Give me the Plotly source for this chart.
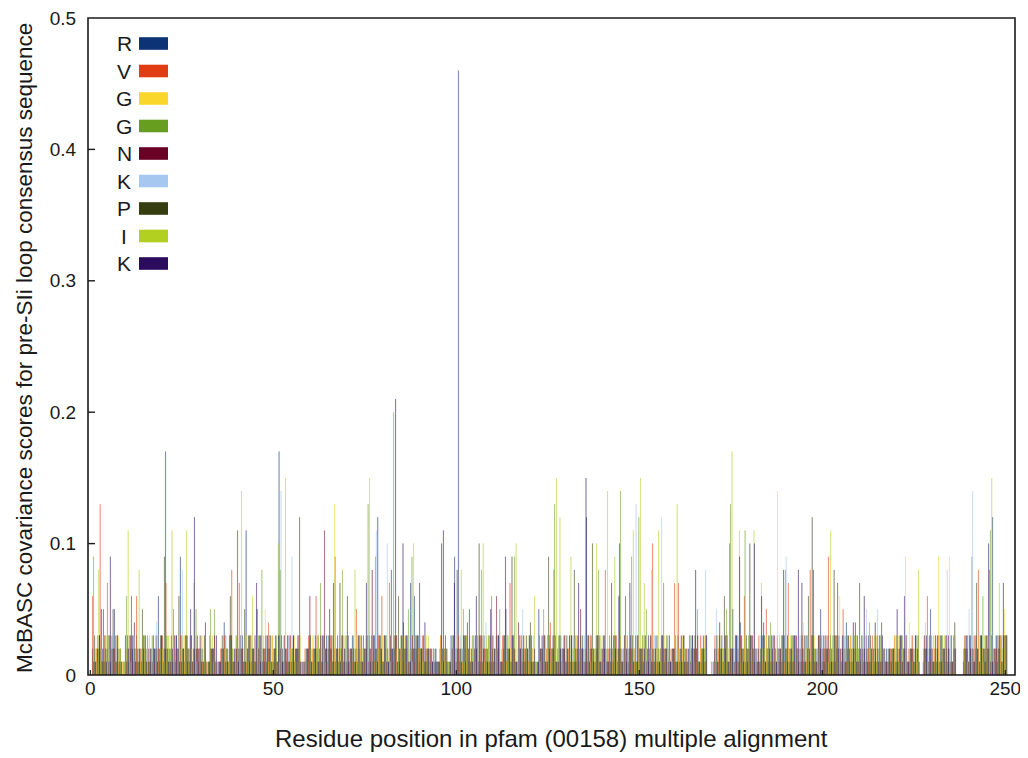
import plotly.graph_objects as go

# residue positions in the pfam (00158) alignment
positions = list(range(1, 251))
x_ticks = [0, 50, 100, 150, 200, 250]
y_ticks = [0, 0.1, 0.2, 0.3, 0.4, 0.5]
y_tick_text = ["0", "0.1", "0.2", "0.3", "0.4", "0.5"]

series_names = ["R", "V", "G", "G", "N", "K", "P", "I", "K"]
series_colors = ["#0b3375", "#e13d12", "#f9d629", "#679e1f", "#6a0225",
                 "#a6c8f0", "#363d10", "#b2d01f", "#2b0b5e"]

# McBASC covariance scores x 100, one list per consensus residue
score_R = [
    2, 1, 3, 5, 2, 1, 5, 2, 0, 3,
    1, 2, 3, 1, 2, 0, 1, 2, 6, 3,
    17, 2, 1, 3, 9, 2, 1, 3, 2, 1,
    2, 0, 1, 2, 0, 1, 4, 2, 3, 1,
    2, 3, 11, 1, 2, 5, 3, 1, 2, 0,
    3, 17, 2, 1, 3, 3, 2, 0, 1, 2,
    1, 3, 2, 1, 3, 2, 1, 3, 2, 1,
    1, 3, 2, 0, 3, 2, 1, 3, 12, 2,
    3, 1, 2, 3, 1, 4, 2, 7, 6, 3,
    2, 1, 2, 1, 1, 2, 1, 0, 3, 9,
    46, 2, 1, 5, 3, 2, 1, 3, 2, 1,
    2, 3, 1, 5, 2, 3, 1, 2, 1, 2,
    3, 0, 5, 2, 1, 3, 2, 1, 3, 2,
    1, 3, 2, 1, 3, 12, 2, 1, 3, 2,
    3, 1, 2, 3, 10, 2, 1, 3, 2, 1,
    2, 3, 1, 2, 3, 1, 2, 3, 1, 2,
    3, 1, 2, 0, 3, 2, 1, 3, 0, 0,
    2, 1, 3, 2, 1, 5, 3, 4, 2, 1,
    3, 1, 2, 3, 1, 2, 3, 1, 2, 3,
    1, 2, 3, 1, 2, 3, 1, 8, 2, 5,
    1, 3, 2, 1, 3, 2, 4, 1, 2, 3,
    1, 2, 3, 1, 2, 3, 1, 2, 1, 2,
    1, 3, 2, 1, 2, 3, 0, 1, 2, 5,
    1, 2, 3, 1, 2, 1, 0, 0, 1, 2,
    3, 1, 2, 3, 1, 2, 12, 3, 2, 3,
]
score_V = [
    6, 2, 13, 1, 7, 3, 2, 1, 1, 2,
    3, 1, 6, 2, 1, 3, 2, 1, 2, 3,
    7, 1, 5, 2, 3, 1, 2, 3, 1, 2,
    1, 1, 3, 2, 1, 2, 3, 1, 8, 2,
    7, 2, 1, 3, 2, 1, 3, 2, 4, 3,
    2, 3, 1, 2, 3, 1, 3, 1, 2, 3,
    2, 6, 1, 3, 2, 3, 2, 1, 3, 2,
    2, 1, 5, 2, 1, 3, 2, 1, 3, 6,
    2, 7, 1, 3, 2, 1, 3, 2, 1, 2,
    3, 2, 1, 2, 0, 3, 2, 1, 2, 1,
    3, 1, 2, 3, 1, 2, 3, 2, 1, 6,
    1, 2, 3, 1, 7, 2, 1, 3, 2, 1,
    2, 1, 3, 1, 2, 4, 8, 2, 1, 3,
    2, 1, 3, 2, 1, 2, 3, 1, 2, 1,
    8, 2, 1, 3, 2, 1, 3, 2, 1, 3,
    1, 3, 2, 10, 1, 2, 7, 1, 2, 7,
    7, 2, 1, 3, 1, 2, 3, 1, 0, 1,
    3, 2, 1, 3, 10, 2, 1, 3, 6, 2,
    1, 2, 3, 1, 5, 2, 1, 3, 2, 1,
    7, 3, 1, 2, 3, 1, 8, 2, 1, 3,
    2, 9, 1, 3, 2, 5, 1, 3, 2, 1,
    3, 1, 2, 3, 1, 2, 2, 1, 2, 3,
    2, 1, 3, 2, 3, 1, 0, 2, 6, 1,
    2, 3, 1, 3, 2, 1, 0, 0, 2, 3,
    1, 3, 8, 2, 3, 8, 1, 2, 3, 3,
]
score_G1 = [
    1, 2, 1, 3, 1, 2, 1, 3, 1, 2,
    2, 1, 3, 1, 2, 1, 2, 3, 1, 2,
    1, 3, 2, 1, 2, 3, 1, 2, 3, 1,
    3, 0, 2, 1, 1, 3, 2, 1, 2, 3,
    1, 2, 3, 2, 1, 2, 3, 5, 1, 3,
    2, 1, 3, 1, 2, 3, 1, 1, 2, 1,
    3, 2, 1, 2, 3, 1, 13, 2, 1, 3,
    1, 2, 3, 3, 1, 2, 3, 1, 2, 3,
    1, 2, 3, 2, 1, 3, 2, 1, 3, 2,
    1, 3, 2, 1, 1, 3, 1, 1, 2, 3,
    2, 1, 3, 2, 1, 3, 2, 1, 3, 2,
    1, 3, 2, 1, 2, 3, 1, 2, 3, 1,
    2, 1, 1, 3, 2, 1, 3, 2, 1, 3,
    2, 1, 3, 1, 2, 3, 1, 2, 1, 3,
    1, 3, 2, 1, 3, 2, 1, 3, 2, 1,
    3, 2, 1, 3, 2, 1, 3, 2, 1, 3,
    2, 3, 2, 1, 2, 1, 2, 3, 0, 1,
    1, 3, 2, 1, 3, 2, 1, 2, 3, 1,
    2, 1, 1, 2, 3, 1, 2, 14, 3, 1,
    3, 2, 1, 3, 4, 2, 1, 3, 2, 1,
    3, 1, 2, 3, 6, 1, 2, 3, 1, 2,
    1, 3, 2, 1, 3, 2, 1, 2, 1, 3,
    3, 2, 9, 4, 1, 2, 0, 3, 1, 2,
    3, 9, 1, 2, 9, 3, 0, 0, 3, 1,
    2, 1, 3, 2, 1, 3, 2, 1, 3, 5,
]
score_G2 = [
    9, 3, 2, 1, 3, 2, 1, 2, 0, 6,
    2, 3, 1, 2, 3, 1, 3, 2, 1, 2,
    3, 2, 1, 2, 3, 1, 2, 1, 5, 2,
    1, 1, 5, 5, 0, 2, 3, 1, 2, 3,
    2, 1, 2, 3, 1, 3, 8, 2, 3, 1,
    3, 8, 1, 3, 2, 1, 2, 0, 1, 3,
    1, 2, 7, 3, 1, 2, 9, 1, 8, 3,
    1, 3, 2, 1, 2, 13, 3, 9, 2, 1,
    3, 2, 20, 1, 3, 2, 5, 9, 3, 1,
    2, 1, 1, 2, 1, 3, 2, 1, 3, 2,
    1, 5, 3, 1, 2, 3, 8, 1, 3, 2,
    3, 5, 2, 3, 1, 9, 2, 3, 1, 3,
    1, 1, 2, 5, 3, 1, 13, 3, 2, 1,
    3, 2, 1, 3, 2, 1, 3, 2, 8, 1,
    2, 3, 1, 2, 14, 3, 2, 9, 1, 12,
    3, 5, 2, 1, 3, 2, 1, 2, 1, 3,
    2, 1, 1, 3, 2, 5, 1, 2, 0, 0,
    1, 3, 2, 5, 13, 1, 3, 2, 11, 3,
    2, 1, 1, 3, 2, 4, 1, 2, 3, 8,
    1, 3, 2, 1, 2, 3, 1, 2, 3, 1,
    2, 1, 3, 2, 1, 3, 2, 1, 3, 2,
    3, 1, 4, 2, 1, 3, 2, 1, 1, 2,
    1, 3, 2, 1, 2, 3, 0, 2, 1, 3,
    2, 1, 3, 2, 1, 3, 0, 0, 2, 1,
    9, 2, 1, 6, 3, 11, 2, 1, 3, 3,
]
score_N = [
    1, 2, 5, 3, 1, 2, 3, 1, 0, 1,
    3, 4, 2, 1, 3, 2, 1, 3, 2, 1,
    2, 1, 3, 2, 1, 3, 2, 1, 2, 3,
    1, 0, 2, 3, 1, 2, 1, 3, 1, 2,
    3, 1, 2, 1, 3, 2, 1, 3, 2, 1,
    1, 2, 3, 3, 1, 2, 3, 1, 2, 6,
    2, 1, 3, 11, 2, 3, 1, 2, 3, 1,
    2, 2, 1, 3, 2, 1, 8, 2, 3, 1,
    1, 3, 2, 1, 3, 2, 1, 3, 2, 7,
    3, 2, 2, 1, 1, 10, 3, 0, 2, 1,
    2, 3, 4, 1, 2, 1, 3, 2, 1, 3,
    6, 1, 3, 2, 1, 2, 4, 1, 2, 3,
    1, 0, 2, 3, 1, 2, 3, 1, 2, 1,
    3, 1, 2, 5, 1, 3, 2, 1, 3, 2,
    1, 2, 3, 1, 2, 3, 1, 2, 3, 2,
    2, 1, 3, 2, 1, 3, 2, 1, 2, 1,
    1, 3, 2, 1, 2, 3, 2, 1, 0, 0,
    2, 4, 1, 3, 2, 1, 2, 3, 1, 2,
    3, 2, 1, 4, 2, 1, 3, 2, 1, 2,
    2, 1, 3, 2, 1, 2, 3, 1, 3, 2,
    3, 2, 1, 3, 2, 1, 3, 2, 4, 1,
    2, 3, 1, 2, 3, 1, 2, 1, 2, 1,
    2, 1, 3, 2, 1, 2, 0, 3, 1, 2,
    3, 1, 2, 3, 1, 2, 0, 0, 3, 1,
    2, 3, 1, 2, 3, 1, 2, 3, 1, 3,
]
score_K1 = [
    2, 1, 2, 3, 1, 3, 2, 1, 1, 2,
    1, 3, 2, 1, 2, 3, 2, 4, 1, 2,
    3, 2, 1, 2, 8, 1, 3, 2, 1, 2,
    2, 1, 1, 2, 1, 2, 3, 1, 2, 1,
    3, 1, 2, 3, 1, 2, 1, 3, 1, 2,
    1, 14, 2, 3, 9, 1, 2, 1, 2, 1,
    3, 2, 1, 2, 3, 1, 2, 3, 1, 2,
    1, 2, 3, 1, 2, 3, 1, 11, 2, 3,
    10, 1, 2, 3, 2, 1, 3, 1, 2, 3,
    1, 2, 1, 2, 1, 2, 1, 1, 3, 2,
    3, 2, 1, 2, 3, 1, 2, 4, 1, 3,
    2, 1, 3, 2, 3, 1, 2, 5, 1, 2,
    3, 1, 1, 2, 3, 2, 1, 3, 2, 1,
    2, 3, 1, 2, 3, 2, 1, 3, 2, 3,
    1, 2, 3, 1, 2, 3, 2, 1, 13, 2,
    3, 1, 2, 3, 1, 12, 2, 3, 1, 2,
    1, 2, 2, 3, 1, 2, 3, 8, 0, 1,
    5, 1, 2, 3, 1, 2, 3, 1, 2, 3,
    2, 2, 3, 1, 2, 3, 1, 2, 3, 9,
    2, 1, 2, 3, 1, 2, 3, 1, 2, 3,
    1, 2, 3, 2, 1, 3, 2, 3, 1, 2,
    3, 5, 1, 2, 5, 1, 2, 2, 1, 3,
    1, 2, 3, 1, 2, 1, 0, 4, 2, 1,
    2, 3, 1, 8, 3, 2, 0, 0, 1, 5,
    14, 2, 3, 1, 2, 3, 1, 2, 3, 3,
]
score_P = [
    3, 2, 1, 2, 3, 5, 1, 2, 1, 3,
    6, 2, 1, 5, 2, 1, 3, 2, 3, 9,
    2, 3, 1, 6, 2, 3, 1, 2, 3, 2,
    3, 1, 2, 1, 1, 3, 2, 6, 1, 11,
    2, 5, 3, 2, 1, 3, 2, 1, 3, 2,
    1, 3, 2, 1, 2, 2, 12, 1, 2, 3,
    2, 3, 1, 2, 3, 1, 2, 7, 1, 6,
    2, 1, 3, 1, 2, 3, 1, 2, 3, 1,
    2, 8, 3, 6, 2, 3, 1, 2, 3, 2,
    1, 2, 2, 1, 1, 2, 1, 1, 3, 8,
    2, 3, 1, 2, 3, 10, 1, 2, 3, 1,
    2, 1, 3, 2, 9, 1, 3, 2, 3, 4,
    1, 1, 2, 3, 9, 2, 1, 3, 2, 3,
    1, 8, 3, 2, 1, 3, 10, 2, 1, 3,
    2, 1, 3, 2, 1, 6, 2, 3, 1, 2,
    1, 2, 3, 1, 2, 3, 2, 3, 2, 1,
    2, 3, 1, 2, 3, 1, 2, 3, 0, 1,
    3, 2, 6, 1, 2, 3, 1, 2, 3, 10,
    2, 1, 2, 3, 1, 3, 2, 1, 3, 2,
    1, 3, 2, 1, 3, 6, 12, 2, 3, 1,
    2, 3, 8, 7, 1, 2, 3, 1, 2, 7,
    1, 2, 3, 1, 2, 4, 1, 2, 2, 1,
    3, 2, 1, 2, 1, 3, 0, 2, 3, 1,
    1, 3, 2, 1, 3, 4, 0, 0, 2, 3,
    2, 7, 3, 1, 2, 3, 1, 2, 1, 3,
]
score_I = [
    2, 8, 1, 3, 2, 1, 3, 2, 1, 11,
    1, 2, 8, 3, 1, 2, 1, 3, 2, 1,
    3, 11, 2, 1, 3, 11, 2, 7, 1, 3,
    2, 1, 3, 1, 0, 1, 2, 3, 1, 2,
    14, 3, 1, 6, 2, 1, 3, 2, 1, 2,
    10, 2, 15, 1, 2, 1, 3, 1, 1, 2,
    1, 3, 2, 1, 2, 3, 1, 2, 3, 2,
    1, 8, 1, 2, 3, 15, 2, 1, 2, 3,
    2, 3, 1, 2, 3, 1, 2, 10, 1, 2,
    1, 3, 1, 2, 0, 1, 2, 1, 2, 3,
    8, 1, 2, 3, 1, 2, 10, 3, 1, 2,
    3, 2, 1, 3, 2, 10, 3, 1, 2, 1,
    6, 0, 2, 1, 3, 2, 15, 12, 1, 2,
    9, 2, 1, 3, 2, 1, 2, 10, 3, 1,
    14, 3, 9, 2, 1, 3, 2, 11, 1, 15,
    7, 1, 8, 2, 11, 1, 3, 1, 2, 13,
    1, 2, 1, 2, 3, 1, 2, 1, 0, 1,
    2, 3, 1, 2, 17, 3, 11, 1, 2, 3,
    11, 2, 7, 2, 3, 1, 2, 3, 1, 2,
    3, 1, 2, 3, 1, 2, 3, 1, 2, 2,
    1, 11, 3, 1, 2, 3, 1, 2, 3, 1,
    2, 1, 2, 3, 1, 2, 1, 2, 2, 3,
    1, 2, 1, 3, 2, 8, 0, 1, 2, 3,
    2, 1, 3, 2, 1, 3, 0, 0, 1, 2,
    3, 1, 2, 3, 2, 15, 3, 7, 2, 3,
]
score_K2 = [
    1, 3, 2, 1, 9, 2, 3, 1, 0, 2,
    3, 1, 2, 3, 1, 2, 2, 1, 3, 2,
    1, 2, 3, 1, 2, 3, 5, 12, 2, 1,
    4, 1, 2, 3, 1, 2, 1, 3, 2, 1,
    2, 1, 3, 2, 7, 1, 2, 3, 1, 2,
    3, 1, 2, 1, 3, 2, 1, 0, 2, 1,
    2, 1, 3, 2, 5, 7, 2, 1, 2, 3,
    2, 1, 3, 1, 7, 2, 3, 1, 2, 3,
    1, 2, 21, 2, 10, 3, 1, 2, 3, 2,
    4, 2, 1, 2, 1, 11, 2, 1, 7, 2,
    1, 3, 2, 1, 6, 3, 2, 1, 5, 2,
    3, 1, 9, 2, 3, 1, 2, 3, 2, 1,
    2, 1, 3, 1, 2, 3, 1, 2, 3, 2,
    3, 1, 7, 2, 15, 1, 2, 3, 1, 2,
    1, 7, 2, 6, 1, 2, 7, 1, 3, 2,
    2, 3, 1, 2, 1, 3, 2, 1, 2, 1,
    3, 1, 2, 3, 8, 1, 2, 3, 0, 0,
    1, 2, 3, 1, 2, 3, 9, 1, 2, 3,
    10, 1, 6, 1, 3, 2, 1, 2, 8, 3,
    2, 3, 8, 7, 1, 2, 3, 1, 2, 3,
    2, 1, 3, 2, 3, 1, 2, 4, 1, 2,
    6, 1, 2, 4, 1, 3, 1, 2, 2, 5,
    3, 6, 1, 2, 3, 1, 0, 3, 2, 1,
    3, 1, 2, 3, 1, 2, 0, 0, 3, 2,
    1, 2, 3, 2, 10, 1, 2, 3, 7, 3,
]

all_scores = [score_R, score_V, score_G1, score_G2, score_N,
              score_K1, score_P, score_I, score_K2]

FONT = "Liberation Sans, Arial, Helvetica, sans-serif"
INK = "#1a1a1a"
X_RANGE = [-0.63, 252.65]
Y_RANGE = [0, 0.5]


def rgba(hex_color, a):
    h = hex_color.lstrip("#")
    r, g, b = int(h[0:2], 16), int(h[2:4], 16), int(h[4:6], 16)
    return f"rgba({r},{g},{b},{a})"


fig = go.Figure()
for name, color, vals in zip(series_names, series_colors, all_scores):
    fig.add_trace(go.Bar(
        x=positions,
        y=[v / 100 for v in vals],
        name=name,
        marker=dict(color=rgba(color, 0.99),
                    line=dict(width=0.15, color=rgba(color, 0.99))),
        showlegend=False,
    ))

# the page body adds an 8 px offset; plot area lands at x 88-1015, y 18-675
OFF = 8
PL, PR, PT, PB = 88, 1015, 18, 675
W, H = 1028 - OFF, 758 - OFF
pw, ph = PR - PL, PB - PT


def px_x(x):
    return (x - PL) / pw


def px_y(y):
    return (PB - y) / ph


label_axis = dict(
    showline=False, showgrid=False, zeroline=False, automargin=False,
    ticklabeloverflow="allow",
    tickfont=dict(family=FONT, size=19, color=INK),
)

fig.update_layout(
    template="none",
    width=W, height=H,
    margin=dict(l=PL - OFF, r=1028 - PR, t=PT - OFF, b=758 - PB, pad=0),
    paper_bgcolor="white", plot_bgcolor="white",
    barmode="group", bargap=0.02, bargroupgap=0,
    font=dict(family=FONT, color=INK),
    xaxis=dict(range=X_RANGE, tickvals=x_ticks, ticks="", **label_axis),
    yaxis=dict(range=Y_RANGE, tickvals=y_ticks, ticktext=y_tick_text,
               ticks="outside", ticklen=7, tickcolor="rgba(0,0,0,0)",
               **label_axis),
)

# inward tick marks, placed through the axes' own scales
for v in y_ticks[1:-1]:
    fig.add_shape(type="line", xref="paper", yref="y",
                  x0=0, x1=7 / pw, y0=v, y1=v,
                  line=dict(color=INK, width=1.4), layer="above")
for v in x_ticks:
    fig.add_shape(type="line", xref="x", yref="paper",
                  x0=v, x1=v, y0=0, y1=5 / ph,
                  line=dict(color=INK, width=1.2), layer="above")

# plot frame
fig.add_shape(type="rect", xref="paper", yref="paper", x0=0, x1=1, y0=0, y1=1,
              line=dict(color=INK, width=1.6), fillcolor="rgba(0,0,0,0)",
              layer="above")

# axis titles
fig.add_annotation(text="Residue position in pfam (00158) multiple alignment",
                   xref="paper", yref="paper", x=0.5, y=px_y(738),
                   xanchor="center", yanchor="middle", showarrow=False,
                   font=dict(family=FONT, size=24, color=INK))
fig.add_annotation(text="McBASC covariance scores for pre-SIi loop consensus sequence",
                   xref="paper", yref="paper", x=px_x(24), y=px_y(348),
                   xanchor="center", yanchor="middle", textangle=-90, showarrow=False,
                   font=dict(family=FONT, size=22.5, color=INK))

# legend: label on the left, colour swatch on the right
row0, step = 43.5, 27.5
for i, (name, color) in enumerate(zip(series_names, series_colors)):
    cy = row0 + i * step
    fig.add_shape(type="rect", xref="paper", yref="paper",
                  x0=px_x(139), x1=px_x(168),
                  y0=px_y(cy + 6.3), y1=px_y(cy - 6.3),
                  fillcolor=color, line=dict(width=0))
    fig.add_annotation(text=name, xref="paper", yref="paper",
                       x=px_x(124), y=px_y(cy), xanchor="center", yanchor="middle",
                       showarrow=False, font=dict(family=FONT, size=21, color=INK))

fig.write_html("out.html")
